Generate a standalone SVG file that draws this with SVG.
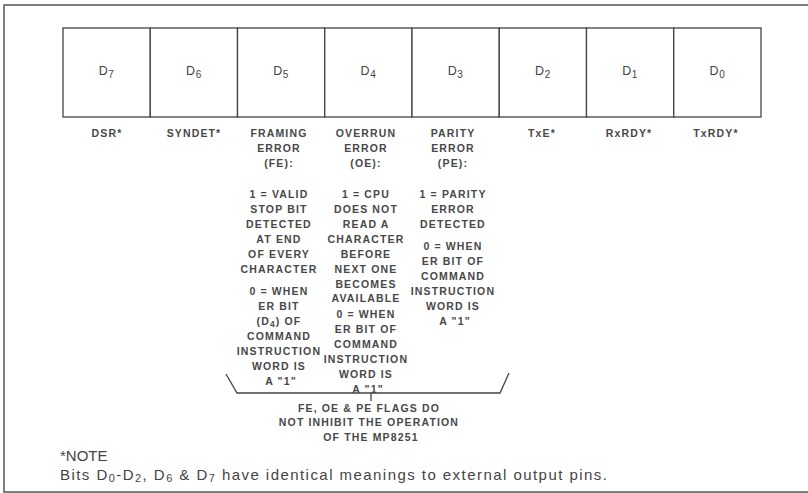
<svg xmlns="http://www.w3.org/2000/svg" width="808" height="493" viewBox="0 0 808 493">
<style>
.frame{fill:none;stroke:#555;stroke-width:1.5}
.cell{fill:#fff;stroke:#444;stroke-width:1.3}
.bit{font-family:"Liberation Sans",Arial,sans-serif;font-size:12.5px;fill:#444;text-anchor:middle;letter-spacing:0.5px}
.bit .sub{font-size:10px}
.lbl{font-family:"Liberation Sans",Arial,sans-serif;font-size:10.5px;font-weight:bold;fill:#484848;text-anchor:middle;letter-spacing:1.15px}
.sub{font-size:8.5px}
.note{font-family:"Liberation Sans",Arial,sans-serif;font-size:15px;fill:#444;letter-spacing:1.45px}
.note.head{letter-spacing:0}
.brace{fill:none;stroke:#444;stroke-width:1.3}
</style>
<rect width="808" height="493" fill="#fff"/>
<path class="frame" d="M808,5 H4 V492 H808"/>
<g id="register">
<g id="bit7"><rect class="cell" x="63" y="28" width="87.25" height="89"/><text class="bit" x="106.6" y="75">D<tspan class="sub" dy="3">7</tspan></text></g>
<g id="bit6"><rect class="cell" x="150.25" y="28" width="87.25" height="89"/><text class="bit" x="193.9" y="75">D<tspan class="sub" dy="3">6</tspan></text></g>
<g id="bit5"><rect class="cell" x="237.5" y="28" width="87.25" height="89"/><text class="bit" x="281.1" y="75">D<tspan class="sub" dy="3">5</tspan></text></g>
<g id="bit4"><rect class="cell" x="324.75" y="28" width="87.25" height="89"/><text class="bit" x="368.4" y="75">D<tspan class="sub" dy="3">4</tspan></text></g>
<g id="bit3"><rect class="cell" x="412" y="28" width="87.25" height="89"/><text class="bit" x="455.6" y="75">D<tspan class="sub" dy="3">3</tspan></text></g>
<g id="bit2"><rect class="cell" x="499.25" y="28" width="87.25" height="89"/><text class="bit" x="542.9" y="75">D<tspan class="sub" dy="3">2</tspan></text></g>
<g id="bit1"><rect class="cell" x="586.5" y="28" width="87.25" height="89"/><text class="bit" x="630.1" y="75">D<tspan class="sub" dy="3">1</tspan></text></g>
<g id="bit0"><rect class="cell" x="673.75" y="28" width="87.25" height="89"/><text class="bit" x="717.4" y="75">D<tspan class="sub" dy="3">0</tspan></text></g>
</g>
<g id="labels">
<g id="lbl7"><text class="lbl" x="107" y="137">DSR*</text></g>
<g id="lbl6"><text class="lbl" x="194" y="137">SYNDET*</text></g>
<g id="lbl5"><text class="lbl" x="281">
<tspan x="281" y="137">FRAMING</tspan>
<tspan x="281" y="152">ERROR</tspan>
<tspan x="281" y="167">(FE):</tspan>
<tspan x="281" y="198">1 = VALID</tspan>
<tspan x="281" y="213">STOP BIT</tspan>
<tspan x="281" y="228">DETECTED</tspan>
<tspan x="281" y="243">AT END</tspan>
<tspan x="281" y="258">OF EVERY</tspan>
<tspan x="281" y="273">CHARACTER</tspan>
<tspan x="281" y="295">0 = WHEN</tspan>
<tspan x="281" y="310">ER BIT</tspan>
<tspan x="281" y="325">(D<tspan class="sub" dy="2">4</tspan><tspan dy="-2">) OF</tspan></tspan>
<tspan x="281" y="340">COMMAND</tspan>
<tspan x="281" y="355">INSTRUCTION</tspan>
<tspan x="281" y="370">WORD IS</tspan>
<tspan x="281" y="385">A "1"</tspan>
</text></g>
<g id="lbl4"><text class="lbl" x="368">
<tspan x="368" y="137">OVERRUN</tspan>
<tspan x="368" y="152">ERROR</tspan>
<tspan x="368" y="167">(OE):</tspan>
<tspan x="368" y="198">1 = CPU</tspan>
<tspan x="368" y="213">DOES NOT</tspan>
<tspan x="368" y="228">READ A</tspan>
<tspan x="368" y="243">CHARACTER</tspan>
<tspan x="368" y="258">BEFORE</tspan>
<tspan x="368" y="273">NEXT ONE</tspan>
<tspan x="368" y="288">BECOMES</tspan>
<tspan x="368" y="302">AVAILABLE</tspan>
<tspan x="368" y="318">0 = WHEN</tspan>
<tspan x="368" y="333">ER BIT OF</tspan>
<tspan x="368" y="348">COMMAND</tspan>
<tspan x="368" y="363">INSTRUCTION</tspan>
<tspan x="368" y="378">WORD IS</tspan>
<tspan x="368" y="393">A "1"</tspan>
</text></g>
<g id="lbl3"><text class="lbl" x="455">
<tspan x="455" y="137">PARITY</tspan>
<tspan x="455" y="152">ERROR</tspan>
<tspan x="455" y="167">(PE):</tspan>
<tspan x="455" y="198">1 = PARITY</tspan>
<tspan x="455" y="213">ERROR</tspan>
<tspan x="455" y="228">DETECTED</tspan>
<tspan x="455" y="250">0 = WHEN</tspan>
<tspan x="455" y="265">ER BIT OF</tspan>
<tspan x="455" y="280">COMMAND</tspan>
<tspan x="455" y="295">INSTRUCTION</tspan>
<tspan x="455" y="310">WORD IS</tspan>
<tspan x="455" y="325">A "1"</tspan>
</text></g>
<g id="lbl2"><text class="lbl" x="542" y="137">TxE*</text></g>
<g id="lbl1"><text class="lbl" x="629" y="137">RxRDY*</text></g>
<g id="lbl0"><text class="lbl" x="716" y="137">TxRDY*</text></g>
</g>
<g id="connectors">
<path class="brace" d="M226,374 L237,393 H500 L509,373 M371,393 V401"/>
</g>
<g id="flags-note">
<text class="lbl" x="371">
<tspan x="371" y="412">FE, OE &amp; PE FLAGS DO</tspan>
<tspan x="371" y="426">NOT INHIBIT THE OPERATION</tspan>
<tspan x="371" y="441">OF THE MP8251</tspan>
</text>
</g>
<g id="footnote">
<text class="note head" x="60" y="461">*NOTE</text>
<text class="note" x="60" y="480">Bits D<tspan font-size="11" dy="2">0</tspan><tspan dy="-2">-D</tspan><tspan font-size="11" dy="2">2</tspan><tspan dy="-2">, D</tspan><tspan font-size="11" dy="2">6</tspan><tspan dy="-2"> &amp; D</tspan><tspan font-size="11" dy="2">7</tspan><tspan dy="-2"> have identical meanings to external output pins.</tspan></text>
</g>
</svg>
